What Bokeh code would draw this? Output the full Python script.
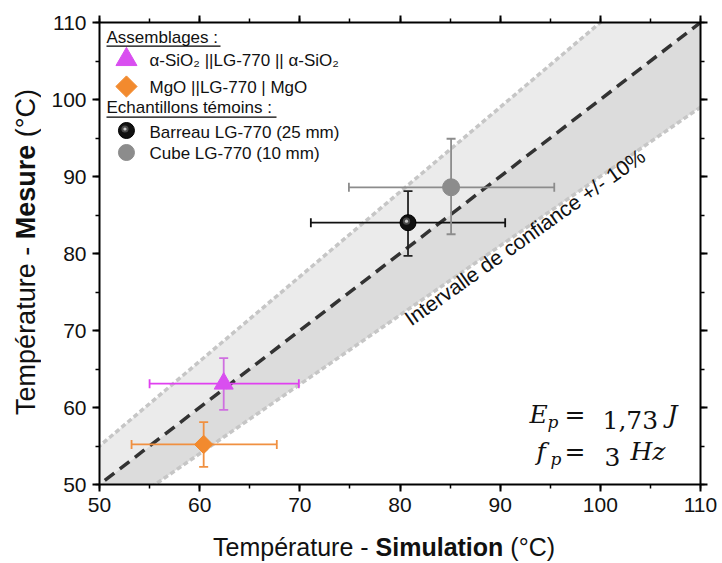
import math
from bokeh.plotting import figure
from bokeh.layouts import column, row
from bokeh.models import (ColumnDataSource, Whisker, TeeHead, Label, LinearAxis, Div,
                          SingleIntervalTicker, Range1d, BoxAnnotation)
from bokeh.embed import file_html
from bokeh.resources import INLINE

# ---------------- data ----------------
series_names = ["α-SiO₂ ||LG-770 || α-SiO₂", "MgO ||LG-770 | MgO",
                "Barreau LG-770 (25 mm)", "Cube LG-770 (10 mm)"]
group_titles = ["Assemblages :", "Echantillons témoins :"]
sim_temp = [62.4, 60.4, 80.8, 85.1]     # Température - Simulation (°C)
sim_lo = [55.0, 53.2, 71.1, 74.9]
sim_hi = [69.9, 67.7, 90.5, 95.4]
mes_temp = [63.1, 55.2, 84.0, 88.6]     # Température - Mesure (°C)
mes_lo = [59.7, 52.3, 79.7, 82.5]
mes_hi = [66.4, 58.1, 88.1, 94.9]
axis_min, axis_max = 50, 110
tick_step = 10
conf = 0.10                              # intervalle de confiance +/- 10 %
diag_x = [40, 120]
x_title = ("Température - ", "Simulation", " (°C)")
y_title = ("Température - ", "Mesure", " (°C)")

# ---------------- layout ----------------
W, H = 720, 560
YW = 48                      # width of the y-title column
PH = 530                     # figure height
BL, BR, BT = 98 - YW, 20, 22
FW, FH = 602, 462
BB = PH - BT - FH
OX, OY = YW + BL, BT + FH    # frame bottom-left in page pixels


def sx(X):
    return X - OX


def sy(Y):
    return OY - Y


def dx(X):
    return axis_min + (X - OX) / FW * (axis_max - axis_min)


def dy(Y):
    return axis_min + (OY - Y) / FH * (axis_max - axis_min)


SANS = "Liberation Sans"
SERIF = "DejaVu Serif"
INK = "#111111"

p = figure(width=W - YW, height=PH, x_range=Range1d(axis_min, axis_max),
           y_range=Range1d(axis_min, axis_max), output_backend="svg",
           toolbar_location=None, min_border_left=BL, min_border_right=BR,
           min_border_top=BT, min_border_bottom=BB)
p.outline_line_color = None
p.grid.visible = False
p.background_fill_color = "white"
p.border_fill_color = "white"


def style_axis(ax, labels=True):
    ax.ticker = SingleIntervalTicker(interval=tick_step, num_minor_ticks=2)
    ax.axis_line_width = 2
    ax.axis_line_color = "black"
    ax.major_tick_out = 7
    ax.major_tick_in = 0
    ax.minor_tick_out = 4
    ax.minor_tick_in = 0
    ax.major_tick_line_width = 2
    ax.minor_tick_line_width = 1.5
    ax.major_tick_line_color = "black"
    ax.minor_tick_line_color = "black"
    if labels:
        ax.major_label_text_font = SANS
        ax.major_label_text_font_size = "21px"
        ax.major_label_text_color = INK
        ax.major_label_standoff = 6
    else:
        ax.major_label_text_font_size = "2px"
        ax.major_label_text_color = None
        ax.major_label_standoff = 0


style_axis(p.xaxis[0])
style_axis(p.yaxis[0])
top_ax = LinearAxis()
right_ax = LinearAxis()
style_axis(top_ax, labels=False)
style_axis(right_ax, labels=False)
p.add_layout(top_ax, "above")
p.add_layout(right_ax, "right")

# ---------------- confidence band ----------------
up = [v * (1 + conf) for v in diag_x]
lo = [v * (1 - conf) for v in diag_x]
p.varea(x=diag_x, y1=diag_x, y2=up, fill_color="#ebebeb", level="image")
p.varea(x=diag_x, y1=lo, y2=diag_x, fill_color="#dcdcdc", level="image")
p.line(diag_x, up, line_color="#c6c6c6", line_width=3.5, line_dash="5 3", level="image")
p.line(diag_x, lo, line_color="#c6c6c6", line_width=3.5, line_dash="5 3", level="image")
p.line(diag_x, diag_x, line_color="#333333", line_width=3.5, line_dash="12 7", level="image")

# ---------------- error bars ----------------
ex_colors = ["#e040f0", "#f09040", "#111111", "#8c8c8c"]
ey_colors = ["#cf6fe0", "#f09040", "#222222", "#8c8c8c"]
for i in range(len(sim_temp)):
    sh = ColumnDataSource(dict(base=[mes_temp[i]], lower=[sim_lo[i]], upper=[sim_hi[i]]))
    sv = ColumnDataSource(dict(base=[sim_temp[i]], lower=[mes_lo[i]], upper=[mes_hi[i]]))
    for src, dim, col in ((sh, "width", ex_colors[i]), (sv, "height", ey_colors[i])):
        w = Whisker(source=src, base="base", lower="lower", upper="upper", dimension=dim,
                    line_color=col, line_width=1.8, level="underlay",
                    upper_head=TeeHead(size=9, line_color=col, line_width=1.8),
                    lower_head=TeeHead(size=9, line_color=col, line_width=1.8))
        p.add_layout(w)

# ---------------- markers ----------------
TRI, DIA, GRAY = "#d94ef0", "#f28a2e", "#8c8c8c"
PX = (axis_max - axis_min) / FW          # data units per pixel (x)
PY = (axis_max - axis_min) / FH


def draw_marker(kind, x, y, big=True):
    if kind == 0:
        p.scatter(x, y, marker="triangle", size=19 if big else 21, fill_color=TRI, line_color=TRI)
    elif kind == 1:
        p.scatter(x, y, marker="square", angle=math.pi / 4, size=13 if big else 15,
                  fill_color=DIA, line_color=DIA)
    elif kind == 2:
        s = 16
        p.scatter(x, y, marker="circle", size=s, fill_color="#111111", line_color="#000000")
        hx = [v - 1.5 * PX for v in x]
        hy = [v + 1.5 * PY for v in y]
        p.scatter(hx, hy, marker="circle", size=s * 0.45, fill_color="#4a4a4a", line_color=None)
        p.scatter(hx, hy, marker="circle", size=s * 0.2, fill_color="#c8c8c8", line_color=None)
    else:
        p.scatter(x, y, marker="circle", size=17 if big else 16, fill_color=GRAY, line_color=GRAY)


for i in range(len(sim_temp)):
    draw_marker(i, [sim_temp[i]], [mes_temp[i]])


def lab(X, Y, t, fs, style="normal", font=SANS):
    # (X, Y) = start of the text baseline, page pixels
    p.add_layout(Label(x=sx(X), y=sy(Y + 0.212 * fs), x_units="screen", y_units="screen",
                       text=t, text_font=font, text_font_size=f"{fs}px",
                       text_font_style=style, text_color=INK, text_baseline="bottom"))


# ---------------- legend ----------------
LFS = 17
lab(105, 43, group_titles[0], LFS)
lab(105, 113, group_titles[1], LFS)
for (x0, x1, yy) in ((105, 219, 45), (105, 275, 116)):
    p.add_layout(BoxAnnotation(left=sx(x0), right=sx(x1), top=sy(yy), bottom=sy(yy + 1.2),
                               left_units="screen", right_units="screen",
                               top_units="screen", bottom_units="screen",
                               fill_color="black", fill_alpha=1, line_color=None))
row_Y = [59, 86, 130, 152]
text_Y = [66, 93, 138, 159]
for i in range(len(series_names)):
    draw_marker(i, [dx(125)], [dy(row_Y[i])], big=False)
    lab(148, text_Y[i], series_names[i], LFS)

# ---------------- band annotation ----------------
p.add_layout(Label(x=dx(406), y=dy(320), text="Intervalle de confiance +/- 10%",
                   angle=35.3, angle_units="deg", text_font=SANS, text_font_size="21px",
                   text_color=INK, text_baseline="alphabetic"))

# ---------------- formula ----------------
lab(528, 423, "E", 25, "italic", SERIF)
lab(546, 428, "p", 17, "italic", SERIF)
lab(563, 423, "=", 25, "normal", SERIF)
lab(601, 423, "1,73", 25, "normal", SERIF)
lab(666, 423, "J", 25, "italic", SERIF)
lab(535, 460, "f", 25, "italic", SERIF)
lab(549, 465, "p", 17, "italic", SERIF)
lab(563, 460, "=", 25, "normal", SERIF)
lab(603, 460, "3", 25, "normal", SERIF)
lab(629, 460, "Hz", 25, "italic", SERIF)

# ---------------- axis titles (mixed normal / bold) ----------------
FONT_CSS = "font-family:'Liberation Sans',Arial,sans-serif;color:#111111;white-space:nowrap;"
x_html = (f'<div style="{FONT_CSS}font-size:25px;line-height:25px;position:relative;'
          f'left:213px;top:5px;">{x_title[0]}<b>{x_title[1]}</b>{x_title[2]}</div>')
y_html = (f'<div style="{FONT_CSS}font-size:27px;line-height:27px;writing-mode:vertical-rl;'
          f'transform:rotate(180deg);position:relative;left:13px;top:89px;">'
          f'{y_title[0]}<b>{y_title[1]}</b>{y_title[2]}</div>')
ydiv = Div(text=y_html, width=YW, height=PH, margin=0)
xdiv = Div(text=x_html, width=W, height=H - PH, margin=0)

layout = column(row(ydiv, p, spacing=0), xdiv, spacing=0)

open("out.html", "w").write(file_html(layout, INLINE))
